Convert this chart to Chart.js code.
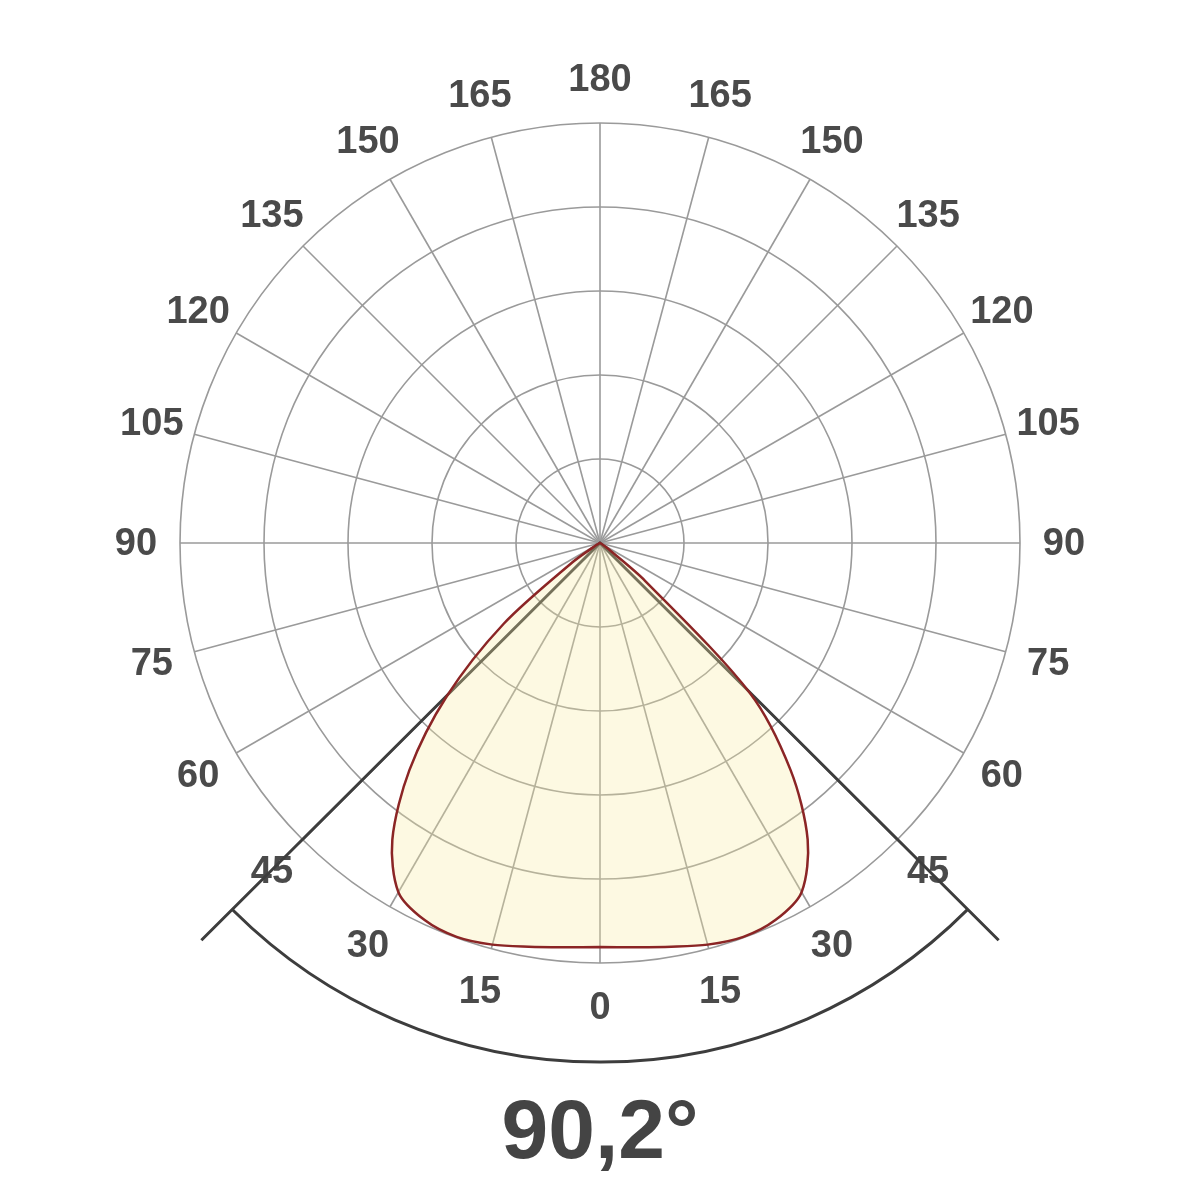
<!DOCTYPE html>
<html>
<head>
<meta charset="utf-8">
<script src="https://cdn.jsdelivr.net/npm/chart.js@4/dist/chart.umd.min.js"></script>
<style>
  body { margin: 0; background: #fff; }
  #wrap { width: 1200px; height: 1200px; }
</style>
</head>
<body>
<div id="wrap"><canvas id="myChart"></canvas></div>
<script>
  // gamma angles (deg from nadir) every 5 deg, 0..90
  const gammaAngles = [0, 5, 10, 15, 20, 25, 30, 35, 40, 45, 50, 55, 60, 65, 70, 75, 80, 85, 90];
  // intensity, in ring units (5 rings = outer circle)
  const intensityLeft  = [4.81, 4.83, 4.88, 4.95, 4.99, 4.95, 4.80, 4.31, 3.53, 2.58, 1.50, 0.40, 0.06, 0.02, 0.01, 0.01, 0, 0, 0];
  const intensityRight = [4.81, 4.83, 4.88, 4.95, 4.99, 4.95, 4.80, 4.31, 3.53, 2.52, 0.70, 0.10, 0.03, 0.01, 0.01, 0, 0, 0, 0];
  // tick labels every 15 deg, clockwise from the bottom
  const tickLabels = ['0', '15', '30', '45', '60', '75', '90', '105', '120', '135', '150', '165',
                      '180', '165', '150', '135', '120', '105', '90', '75', '60', '45', '30', '15'];
  const beamAngle = 90.2;

  // build 5 deg categories around the full circle (clockwise from the bottom)
  const step = 5;
  const labels = [];
  const values = [];
  for (let i = 0; i < 360 / step; i++) {
    const a = i * step;
    labels.push(a % 15 === 0 ? tickLabels[a / 15] : '');
    let v = 0;
    if (a <= 90) v = intensityLeft[gammaAngles.indexOf(a)];
    else if (a >= 270) v = intensityRight[gammaAngles.indexOf(360 - a)];
    values.push(v);
  }

  const polarPlugin = {
    id: 'polarExtras',
    beforeDatasetsDraw(chart) {
      const s = chart.scales.r;
      const ctx = chart.ctx;
      const n = chart.data.labels.length;
      ctx.save();

      // angle labels, centred on a circle just outside the grid
      ctx.font = 'bold 38px "Liberation Sans", Arial, sans-serif';
      ctx.fillStyle = '#4a4a4a';
      ctx.textAlign = 'center';
      ctx.textBaseline = 'middle';
      chart.data.labels.forEach((lab, i) => {
        if (!lab) return;
        const p = s.getPointPosition(i, s.drawingArea + 44);
        ctx.fillText(lab, p.x, p.y + 1.5);
      });

      // beam angle lines and arc
      const idx = (beamAngle / 2) / step;
      const lineLen = s.getDistanceFromCenterForValue(6.7);
      const arcR = s.getDistanceFromCenterForValue(6.18);
      const left = s.getPointPosition(idx, lineLen);
      const right = s.getPointPosition(n - idx, lineLen);
      ctx.strokeStyle = '#3d3d3d';
      ctx.lineWidth = 3;
      ctx.beginPath();
      ctx.moveTo(left.x, left.y);
      ctx.lineTo(s.xCenter, s.yCenter);
      ctx.lineTo(right.x, right.y);
      ctx.stroke();
      ctx.beginPath();
      ctx.arc(s.xCenter, s.yCenter, arcR, right.angle, left.angle);
      ctx.stroke();
      ctx.restore();
    }
  };

  const data = {
    labels: labels,
    datasets: [
      {
        label: 'Intensity',
        data: values,
        backgroundColor: 'rgba(247, 235, 160, 0.3)',
        borderColor: '#8b2525',
        borderWidth: 2.5,
        pointRadius: 0,
        tension: 0.3,
        fill: true
      }
    ]
  };

  const config = {
    type: 'radar',
    data: data,
    plugins: [polarPlugin],
    options: {
      responsive: true,
      maintainAspectRatio: false,
      animation: false,
      layout: { padding: { top: 123, bottom: 0, left: 0, right: 0 } },
      plugins: {
        legend: { display: false },
        tooltip: { enabled: false },
        title: {
          display: true,
          position: 'bottom',
          text: beamAngle.toString().replace('.', ',') + '°',
          color: '#444',
          font: { family: 'Liberation Sans', size: 84, weight: 'bold', lineHeight: 1.2 },
          padding: { top: 121, bottom: 15.2 }
        }
      },
      scales: {
        r: {
          min: 0,
          max: 5,
          startAngle: 180,
          ticks: { display: false, stepSize: 1 },
          grid: { circular: true, color: '#9a9a9a', lineWidth: 1.6 },
          angleLines: {
            color: (ctx) => ctx.index % 3 === 0 ? '#9a9a9a' : 'transparent',
            lineWidth: (ctx) => ctx.index % 3 === 0 ? 1.6 : 0
          },
          pointLabels: { display: false }
        }
      }
    }
  };

  const myChart = new Chart(document.getElementById('myChart'), config);
</script>
</body>
</html>
